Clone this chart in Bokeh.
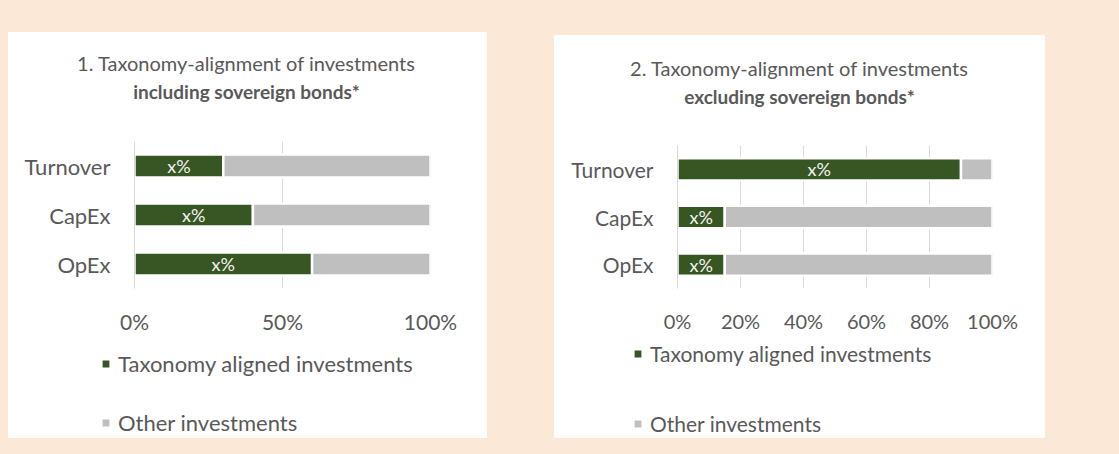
from bokeh.plotting import figure
from bokeh.models import (Range1d, FactorRange, FixedTicker, NumeralTickFormatter,
                          ColumnDataSource, Label, Legend, LegendItem, Spacer)
from bokeh.layouts import row, column
from bokeh.embed import file_html
from bokeh.resources import INLINE
from bokeh.core.properties import value

# ---------------- data ----------------
categories = ["Turnover", "CapEx", "OpEx"]
aligned_incl = [0.30, 0.40, 0.60]
other_incl = [0.70, 0.60, 0.40]
aligned_excl = [0.90, 0.15, 0.15]
other_excl = [0.10, 0.85, 0.85]
bar_labels = ["x%", "x%", "x%"]
ticks_incl = [0, 0.5, 1.0]
ticks_excl = [0, 0.2, 0.4, 0.6, 0.8, 1.0]
series_names = ["Taxonomy aligned investments", "Other investments"]
title_incl = ["1. Taxonomy-alignment of investments", "including sovereign bonds*"]
title_excl = ["2. Taxonomy-alignment of investments", "excluding sovereign bonds*"]

GREEN = "#375623"
GRAY = "#BFBFBF"
TXT = "#595959"
GRID = "#D9D9D9"
BG = "#FBE8D6"
FONT = "Lato"


def blank(w, h):
    f = figure(width=w, height=h, x_range=Range1d(0, w), y_range=Range1d(0, h),
               x_axis_type=None, y_axis_type=None, toolbar_location=None,
               output_backend="svg", min_border=0, frame_align=False)
    f.outline_line_color = None
    f.background_fill_color = "white"
    f.border_fill_color = "white"
    return f


def title_fig(titles, w, h, tx, ty1, ty2):
    f = blank(w, h)
    f.add_layout(Label(x=tx, y=ty1, text=titles[0], text_align="center",
                       text_baseline="middle", text_font=FONT,
                       text_font_size="20px", text_color=TXT))
    f.add_layout(Label(x=tx, y=ty2, text=titles[1], text_align="center",
                       text_baseline="middle", text_font=FONT, text_font_style="bold",
                       text_font_size="19px", text_color=TXT))
    return f


def chart_fig(aligned, other, ticks, w, h, borders, cfs, tfs):
    lb, rb, tb, bb = borders
    src = ColumnDataSource(dict(cat=categories, aligned=aligned, other=other,
                                mid=[a / 2 for a in aligned], lab=bar_labels))
    p = figure(width=w, height=h, y_range=FactorRange(*reversed(categories)),
               x_range=Range1d(0, 1), output_backend="svg", toolbar_location=None,
               min_border_left=lb, min_border_right=rb, min_border_top=tb,
               min_border_bottom=bb, title=None, frame_align=False)
    p.outline_line_color = None
    p.background_fill_color = "white"
    p.border_fill_color = "white"

    p.hbar_stack(["aligned", "other"], y="cat", height=0.47, source=src,
                 fill_color=[GREEN, GRAY], line_color="white", line_width=2.5)
    p.text(x="mid", y="cat", text="lab", source=src, text_align="center",
           text_baseline="middle", text_color="#F2F2F2", text_font=value(FONT),
           text_font_size="18px")

    tick = FixedTicker(ticks=ticks)
    p.xaxis.ticker = tick
    p.xaxis.formatter = NumeralTickFormatter(format="0%")
    p.xaxis.axis_line_color = None
    p.xaxis.major_tick_line_color = None
    p.xaxis.minor_tick_line_color = None
    p.xaxis.major_tick_out = 0
    p.xaxis.major_label_standoff = 20
    p.xaxis.major_label_text_font = FONT
    p.xaxis.major_label_text_font_size = tfs
    p.xaxis.major_label_text_color = TXT
    p.xgrid.ticker = tick
    p.xgrid.grid_line_color = GRID
    p.ygrid.grid_line_color = None

    p.yaxis.axis_line_color = GRID
    p.yaxis.major_tick_line_color = None
    p.yaxis.minor_tick_line_color = None
    p.yaxis.major_tick_out = 0
    p.yaxis.major_label_standoff = 24
    p.yaxis.major_label_text_font = FONT
    p.yaxis.major_label_text_font_size = cfs
    p.yaxis.major_label_text_color = TXT
    return p


def legend_fig(w, h, lloc, lspacing, fs):
    f = blank(w, h)
    # legend swatches only: one out-of-view sample each so the key can be drawn
    r1 = f.hbar(y=[-10], left=[0], right=[1], height=1, fill_color=GREEN,
                line_color="white", line_width=2)
    r2 = f.hbar(y=[-10], left=[0], right=[1], height=1, fill_color=GRAY,
                line_color="white", line_width=2)
    legend = Legend(items=[LegendItem(label=series_names[0], renderers=[r1]),
                           LegendItem(label=series_names[1], renderers=[r2])],
                    location=lloc, orientation="vertical", spacing=lspacing,
                    padding=0, margin=0, border_line_color=None,
                    background_fill_alpha=0, glyph_width=11, glyph_height=11,
                    label_standoff=7, label_text_font=FONT, label_text_font_size=fs,
                    label_text_color=TXT, label_height=20)
    f.add_layout(legend)
    return f


# left panel: page x 8..487
lt = title_fig(title_incl, 479, 100, 238, 70, 41)
lc = chart_fig(aligned_incl, other_incl, ticks_incl, 479, 208, (126, 57, 9, 52),
               "22px", "21px")
ll = legend_fig(479, 98, (92, 2), 32, "22px")
left_col = column(Spacer(height=32),
                  column(lt, lc, ll, styles={"background-color": "white"}))

# right panel: page x 554..1045
rt = title_fig(title_excl, 491, 97, 245, 65, 36)
rc = chart_fig(aligned_excl, other_excl, ticks_excl, 491, 208, (123, 53, 13, 52),
               "21px", "20px")
rl = legend_fig(491, 98, (78, 2), 45, "21px")
right_col = column(Spacer(height=35),
                   column(rt, rc, rl, styles={"background-color": "white"}))

layout = row(Spacer(width=8), left_col, Spacer(width=67), right_col)
html = file_html(layout, INLINE)
style = "<style>html, body { background-color: %s; }</style>" % BG
i = html.rfind("</head>")
if i >= 0:
    html = html[:i] + style + html[i:]
open("out.html", "w").write(html)
